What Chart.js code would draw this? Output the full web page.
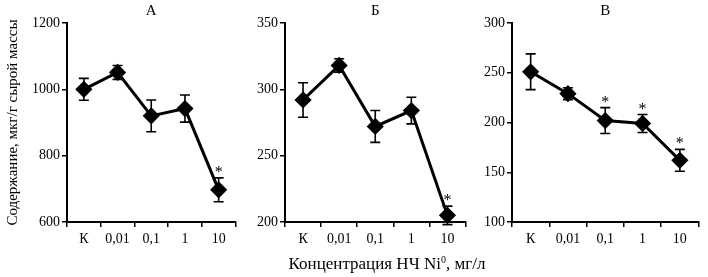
<!DOCTYPE html>
<html>
<head>
<meta charset="utf-8">
<script src="https://cdn.jsdelivr.net/npm/chart.js@4.4.0/dist/chart.umd.min.js"></script>
<style>
  body { margin: 0; background: #fff; }
  #wrap { position: relative; width: 708px; height: 277px; overflow: hidden; }
  canvas { position: absolute; top: 0; }
  #xTitle {
    position: absolute; left: 237px; top: 254px; width: 300px;
    text-align: center; font: 17px "Liberation Serif", serif; color: #000; line-height: 20px;
  }
  #xTitle sup { font-size: 10px; line-height: 0; vertical-align: 6px; }
</style>
</head>
<body>
<div id="wrap">
  <canvas id="chartA" width="245" height="277" style="left:0px"></canvas>
  <canvas id="chartB" width="245" height="277" style="left:230px"></canvas>
  <canvas id="chartC" width="248" height="277" style="left:460px"></canvas>
  <div id="xTitle">Концентрация НЧ Ni<sup>0</sup>, мг/л</div>
</div>
<script>
// категории по оси X
var categories = ["К", "0,01", "0,1", "1", "10"];

// панель А
var aValues = [1000, 1051, 920, 942, 697];
var aErrors = [33, 21, 48, 41, 36];
var aStars = [false, false, false, false, true];
var aTicks = [600, 800, 1000, 1200];

// панель Б
var bValues = [292, 318, 272, 284, 205];
var bErrors = [13, 5, 12, 10, 7];
var bStars = [false, false, false, false, true];
var bTicks = [200, 250, 300, 350];

// панель В
var cValues = [251, 229, 202, 199, 162];
var cErrors = [18, 6, 13, 9, 11];
var cStars = [false, false, true, true, true];
var cTicks = [100, 150, 200, 250, 300];

var FONT = "'Liberation Serif', 'Times New Roman', serif";

// усы ошибок, звездочки и буква панели
var errorBars = {
  id: "errorBars",
  beforeDatasetsDraw: function (chart, args, opts) {
    var ctx = chart.ctx;
    var y = chart.scales.y;
    var meta = chart.getDatasetMeta(0);
    var vals = chart.data.datasets[0].data;
    ctx.save();
    ctx.strokeStyle = "#000";
    ctx.lineWidth = 1.6;
    meta.data.forEach(function (pt, i) {
      var top = y.getPixelForValue(vals[i] + opts.errors[i]);
      var bot = y.getPixelForValue(vals[i] - opts.errors[i]);
      ctx.beginPath();
      ctx.moveTo(pt.x, top); ctx.lineTo(pt.x, bot);
      ctx.moveTo(pt.x - 5, top); ctx.lineTo(pt.x + 5, top);
      ctx.moveTo(pt.x - 5, bot); ctx.lineTo(pt.x + 5, bot);
      ctx.stroke();
    });
    ctx.restore();
  },
  afterDatasetsDraw: function (chart, args, opts) {
    var ctx = chart.ctx;
    var y = chart.scales.y;
    var meta = chart.getDatasetMeta(0);
    var vals = chart.data.datasets[0].data;
    ctx.save();
    ctx.fillStyle = "#000";
    ctx.font = "16px " + FONT;
    ctx.textAlign = "center";
    ctx.textBaseline = "alphabetic";
    meta.data.forEach(function (pt, i) {
      if (!opts.stars[i]) return;
      var top = y.getPixelForValue(vals[i] + opts.errors[i]);
      ctx.fillText("*", pt.x, top - 1);
    });
    // буква панели
    var area = chart.chartArea;
    ctx.font = "15px " + FONT;
    ctx.textBaseline = "middle";
    ctx.fillText(opts.letter, (area.left + area.right) / 2, 11);
    ctx.restore();
  }
};

function make_chart(canvasId, values, errors, stars, ticks, letter, yWidth, padRight, yTitle) {
  var ctx = document.getElementById(canvasId).getContext("2d");
  var step = ticks[1] - ticks[0];
  return new Chart(ctx, {
    type: "line",
    data: {
      labels: categories,
      datasets: [{
        data: values,
        borderColor: "#000",
        borderWidth: 3,
        tension: 0,
        pointStyle: "rectRot",
        pointRadius: 6.5,
        pointBackgroundColor: "#000",
        pointBorderColor: "#000",
        clip: false
      }]
    },
    options: {
      responsive: false,
      animation: false,
      devicePixelRatio: 1,
      layout: { padding: { top: 23, right: padRight, left: 0, bottom: 0 } },
      plugins: {
        legend: { display: false },
        tooltip: { enabled: false },
        errorBars: { errors: errors, stars: stars, letter: letter }
      },
      scales: {
        x: {
          offset: true,
          grid: { offset: true, drawOnChartArea: false, drawTicks: true, tickLength: 5, color: "#000", lineWidth: 1.5 },
          border: { display: true, color: "#000", width: 2 },
          ticks: { color: "#000", font: { family: FONT, size: 14 }, padding: 4, maxRotation: 0, autoSkip: false },
          afterFit: function (scale) { scale.height = 55; }
        },
        y: {
          min: ticks[0],
          max: ticks[ticks.length - 1],
          grid: { drawOnChartArea: false, drawTicks: true, tickLength: 5, color: "#000", lineWidth: 1.5 },
          border: { display: true, color: "#000", width: 2 },
          ticks: {
            stepSize: step, color: "#000", font: { family: FONT, size: 14 }, padding: 2,
            callback: function (v) { return String(v); }
          },
          title: {
            display: !!yTitle,
            text: yTitle || "",
            color: "#000",
            font: { family: FONT, size: 15 },
            padding: { top: 4, bottom: 0 }
          },
          afterFit: function (scale) { scale.width = yWidth; }
        }
      }
    },
    plugins: [errorBars]
  });
}

make_chart("chartA", aValues, aErrors, aStars, aTicks, "А", 67, 8, "Содержание, мкг/г сырой массы");
make_chart("chartB", bValues, bErrors, bStars, bTicks, "Б", 55, 8, null);
make_chart("chartC", cValues, cErrors, cStars, cTicks, "В", 52, 6, null);
</script>
</body>
</html>
